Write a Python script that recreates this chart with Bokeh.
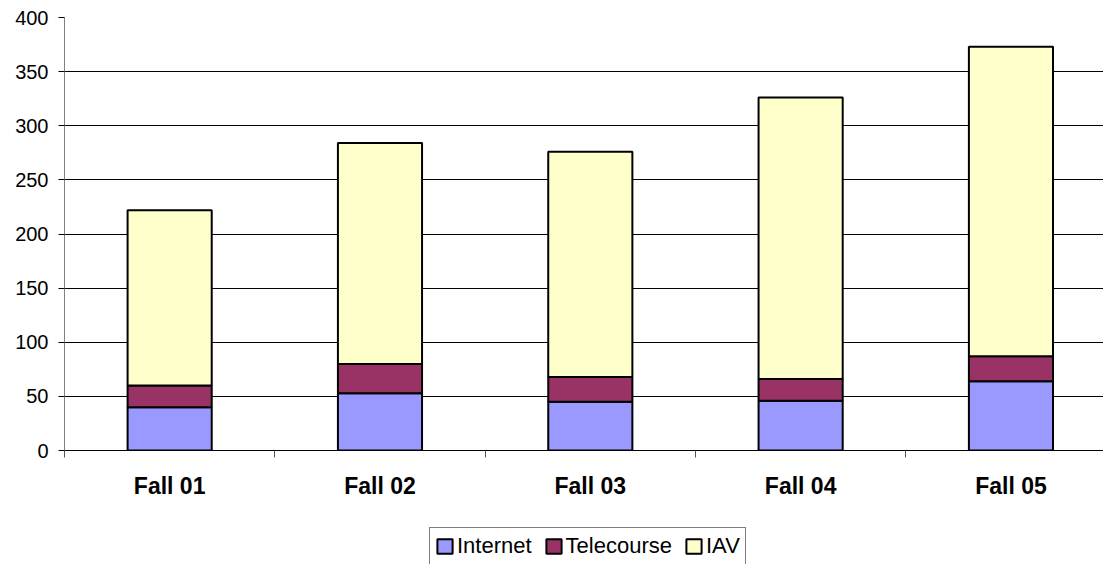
from bokeh.plotting import figure
from bokeh.layouts import column
from bokeh.models import (ColumnDataSource, Range1d, FixedTicker, Legend, LegendItem)
from bokeh.embed import file_html
from bokeh.resources import INLINE

categories = ["Fall 01", "Fall 02", "Fall 03", "Fall 04", "Fall 05"]
internet = [40, 53, 45, 46, 64]
telecourse = [20, 27, 23, 20, 23]
iav = [162, 204, 208, 260, 286]
series = ["Internet", "Telecourse", "IAV"]
colors = ["#9999FF", "#993366", "#FFFFCC"]
y_ticks = [0, 50, 100, 150, 200, 250, 300, 350, 400]

centers = [i + 0.5 for i in range(len(categories))]
bounds = [float(i) for i in range(len(categories) + 1)]

source = ColumnDataSource(dict(x=centers, Internet=internet, Telecourse=telecourse, IAV=iav))

FONT = "Liberation Sans"

p = figure(width=1103, height=520, output_backend="svg", toolbar_location=None,
           x_range=Range1d(0, 4.94), y_range=Range1d(0, 400),
           min_border_left=64, min_border_right=0, min_border_top=17, min_border_bottom=70)
p.outline_line_color = None
p.background_fill_color = "white"
p.border_fill_color = "white"

p.vbar_stack(series, x="x", width=0.4, source=source,
             fill_color=colors, line_color="black", line_width=2)

# axes
p.xgrid.visible = False
p.ygrid.grid_line_color = "black"
p.ygrid.grid_line_width = 1
p.ygrid.ticker = FixedTicker(ticks=y_ticks)

p.yaxis.ticker = FixedTicker(ticks=y_ticks)
p.yaxis.axis_line_color = "#808080"
p.yaxis.major_tick_out = 6
p.yaxis.major_tick_in = 0
p.yaxis.major_tick_line_color = "black"
p.yaxis.minor_tick_line_color = None
p.yaxis.major_label_standoff = 10
p.yaxis.major_label_text_font = FONT
p.yaxis.major_label_text_font_size = "20px"
p.yaxis.major_label_text_color = "black"

p.xaxis.ticker = FixedTicker(ticks=centers, minor_ticks=bounds)
p.xaxis.major_label_overrides = {c: lab for c, lab in zip(centers, categories)}
p.xaxis.axis_line_color = "black"
p.xaxis.major_tick_line_color = None
p.xaxis.major_tick_out = 0
p.xaxis.major_tick_in = 0
p.xaxis.minor_tick_out = 7
p.xaxis.minor_tick_in = 0
p.xaxis.minor_tick_line_color = "#555555"
p.xaxis.major_label_standoff = 15
p.xaxis.major_label_text_font = FONT
p.xaxis.major_label_text_font_size = "23px"
p.xaxis.major_label_text_font_style = "bold"
p.xaxis.major_label_text_color = "black"

# legend strip below the chart (hidden copies of the stacked bars supply the legend glyphs)
lf = figure(width=1103, height=44, output_backend="svg", toolbar_location=None,
            x_axis_type=None, y_axis_type=None,
            x_range=Range1d(0, 1), y_range=Range1d(0, 1),
            min_border_left=0, min_border_right=0, min_border_top=0, min_border_bottom=0)
lf.outline_line_color = None
lf.background_fill_color = "white"
lf.border_fill_color = "white"
lrs = lf.vbar_stack(series, x="x", width=0.4, source=source,
                    fill_color=colors, line_color="black", line_width=2, visible=False)

legend = Legend(items=[LegendItem(label=s, renderers=[r]) for s, r in zip(series, lrs)],
                orientation="horizontal", location=(365, -1),
                glyph_width=19, glyph_height=18, label_standoff=3, spacing=12, padding=5,
                margin=0,
                label_text_font=FONT, label_text_font_size="22px", label_text_color="black",
                border_line_color="black", border_line_width=1,
                background_fill_color="white", background_fill_alpha=1,
                inactive_fill_alpha=0)
lf.add_layout(legend, "center")

open("out.html", "w").write(file_html(column(p, lf, spacing=0), INLINE))
